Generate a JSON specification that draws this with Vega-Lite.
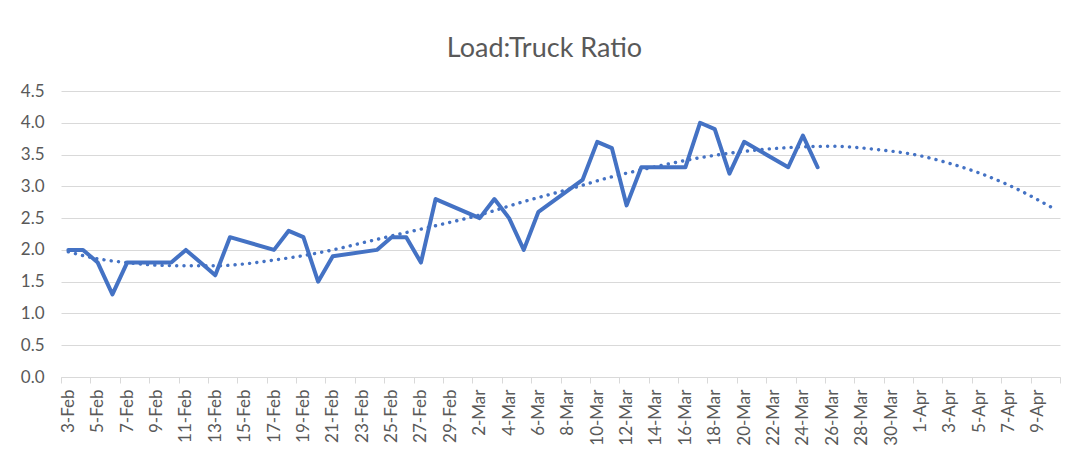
{
  "$schema": "https://vega.github.io/schema/vega-lite/v6.json",
  "autosize": "none",
  "width": 999,
  "height": 286,
  "padding": {"left": 61, "top": 91, "right": 9, "bottom": 79},
  "background": "white",
  "title": {
    "text": "Load:Truck Ratio",
    "font": "Lato",
    "fontSize": 27,
    "fontWeight": "normal",
    "color": "#595959",
    "anchor": "middle",
    "dx": -16,
    "dy": 35,
    "baseline": "alphabetic",
    "offset": 33
  },
  "config": {
    "view": {"stroke": null},
    "axis": {"labelFont": "Lato", "labelFontSize": 17, "labelColor": "#595959"}
  },
  "datasets": {
    "actual": [
      {"date": "2020-02-03T00:00:00", "ratio": 2.0},
      {"date": "2020-02-04T00:00:00", "ratio": 2.0},
      {"date": "2020-02-05T00:00:00", "ratio": 1.8},
      {"date": "2020-02-06T00:00:00", "ratio": 1.3},
      {"date": "2020-02-07T00:00:00", "ratio": 1.8},
      {"date": "2020-02-10T00:00:00", "ratio": 1.8},
      {"date": "2020-02-11T00:00:00", "ratio": 2.0},
      {"date": "2020-02-12T00:00:00", "ratio": 1.8},
      {"date": "2020-02-13T00:00:00", "ratio": 1.6},
      {"date": "2020-02-14T00:00:00", "ratio": 2.2},
      {"date": "2020-02-17T00:00:00", "ratio": 2.0},
      {"date": "2020-02-18T00:00:00", "ratio": 2.3},
      {"date": "2020-02-19T00:00:00", "ratio": 2.2},
      {"date": "2020-02-20T00:00:00", "ratio": 1.5},
      {"date": "2020-02-21T00:00:00", "ratio": 1.9},
      {"date": "2020-02-24T00:00:00", "ratio": 2.0},
      {"date": "2020-02-25T00:00:00", "ratio": 2.2},
      {"date": "2020-02-26T00:00:00", "ratio": 2.2},
      {"date": "2020-02-27T00:00:00", "ratio": 1.8},
      {"date": "2020-02-28T00:00:00", "ratio": 2.8},
      {"date": "2020-03-02T00:00:00", "ratio": 2.5},
      {"date": "2020-03-03T00:00:00", "ratio": 2.8},
      {"date": "2020-03-04T00:00:00", "ratio": 2.5},
      {"date": "2020-03-05T00:00:00", "ratio": 2.0},
      {"date": "2020-03-06T00:00:00", "ratio": 2.6},
      {"date": "2020-03-09T00:00:00", "ratio": 3.1},
      {"date": "2020-03-10T00:00:00", "ratio": 3.7},
      {"date": "2020-03-11T00:00:00", "ratio": 3.6},
      {"date": "2020-03-12T00:00:00", "ratio": 2.7},
      {"date": "2020-03-13T00:00:00", "ratio": 3.3},
      {"date": "2020-03-16T00:00:00", "ratio": 3.3},
      {"date": "2020-03-17T00:00:00", "ratio": 4.0},
      {"date": "2020-03-18T00:00:00", "ratio": 3.9},
      {"date": "2020-03-19T00:00:00", "ratio": 3.2},
      {"date": "2020-03-20T00:00:00", "ratio": 3.7},
      {"date": "2020-03-23T00:00:00", "ratio": 3.3},
      {"date": "2020-03-24T00:00:00", "ratio": 3.8},
      {"date": "2020-03-25T00:00:00", "ratio": 3.3}
    ],
    "trend": [
      {"date": "2020-02-03T00:00:00", "ratio": 1.97},
      {"date": "2020-02-05T00:00:00", "ratio": 1.86},
      {"date": "2020-02-07T00:00:00", "ratio": 1.80},
      {"date": "2020-02-09T00:00:00", "ratio": 1.76},
      {"date": "2020-02-11T00:00:00", "ratio": 1.75},
      {"date": "2020-02-13T00:00:00", "ratio": 1.75},
      {"date": "2020-02-15T00:00:00", "ratio": 1.78},
      {"date": "2020-02-17T00:00:00", "ratio": 1.84},
      {"date": "2020-02-19T00:00:00", "ratio": 1.91},
      {"date": "2020-02-21T00:00:00", "ratio": 2.00},
      {"date": "2020-02-23T00:00:00", "ratio": 2.11},
      {"date": "2020-02-25T00:00:00", "ratio": 2.22},
      {"date": "2020-02-28T00:00:00", "ratio": 2.38},
      {"date": "2020-03-02T00:00:00", "ratio": 2.55},
      {"date": "2020-03-05T00:00:00", "ratio": 2.76},
      {"date": "2020-03-08T00:00:00", "ratio": 2.95},
      {"date": "2020-03-11T00:00:00", "ratio": 3.15},
      {"date": "2020-03-14T00:00:00", "ratio": 3.31},
      {"date": "2020-03-17T00:00:00", "ratio": 3.45},
      {"date": "2020-03-20T00:00:00", "ratio": 3.55},
      {"date": "2020-03-23T00:00:00", "ratio": 3.61},
      {"date": "2020-03-26T00:00:00", "ratio": 3.63},
      {"date": "2020-03-29T00:00:00", "ratio": 3.58},
      {"date": "2020-04-01T00:00:00", "ratio": 3.48},
      {"date": "2020-04-03T00:00:00", "ratio": 3.36},
      {"date": "2020-04-05T00:00:00", "ratio": 3.21},
      {"date": "2020-04-07T00:00:00", "ratio": 3.02},
      {"date": "2020-04-10T00:00:00", "ratio": 2.66}
    ]
  },
  "encoding": {
    "y": {
      "field": "ratio",
      "type": "quantitative",
      "scale": {"domain": [0, 4.5], "nice": false, "zero": true},
      "axis": {
        "title": null,
        "values": [0, 0.5, 1, 1.5, 2, 2.5, 3, 3.5, 4, 4.5],
        "format": ".1f",
        "domain": false,
        "ticks": false,
        "grid": true,
        "gridColor": "#d9d9d9",
        "gridWidth": 1,
        "labelPadding": 17
      }
    }
  },
  "layer": [
    {
      "data": {"name": "trend"},
      "mark": {"type": "line", "color": "#4472C4", "strokeWidth": 3.4, "strokeCap": "round", "strokeDash": [0.1, 7.2], "interpolate": "monotone"},
      "encoding": {
        "x": {
          "field": "date",
          "type": "temporal",
          "scale": {"domain": ["2020-02-02T12:00:00", "2020-04-10T12:00:00"], "nice": false},
          "axis": {
            "orient": "bottom",
            "title": null,
            "labels": false,
            "grid": false,
            "domain": false,
            "ticks": true,
            "tickSize": 6,
            "tickColor": "#d9d9d9",
            "values": ["2020-02-02T12:00:00","2020-02-04T12:00:00","2020-02-06T12:00:00","2020-02-08T12:00:00","2020-02-10T12:00:00","2020-02-12T12:00:00","2020-02-14T12:00:00","2020-02-16T12:00:00","2020-02-18T12:00:00","2020-02-20T12:00:00","2020-02-22T12:00:00","2020-02-24T12:00:00","2020-02-26T12:00:00","2020-02-28T12:00:00","2020-03-01T12:00:00","2020-03-03T12:00:00","2020-03-05T12:00:00","2020-03-07T12:00:00","2020-03-09T12:00:00","2020-03-11T12:00:00","2020-03-13T12:00:00","2020-03-15T12:00:00","2020-03-17T12:00:00","2020-03-19T12:00:00","2020-03-21T12:00:00","2020-03-23T12:00:00","2020-03-25T12:00:00","2020-03-27T12:00:00","2020-03-29T12:00:00","2020-03-31T12:00:00","2020-04-02T12:00:00","2020-04-04T12:00:00","2020-04-06T12:00:00","2020-04-08T12:00:00","2020-04-10T12:00:00"]
          }
        }
      }
    },
    {
      "data": {"name": "actual"},
      "mark": {"type": "line", "color": "#4472C4", "strokeWidth": 4, "strokeJoin": "round", "strokeCap": "round"},
      "encoding": {
        "x": {
          "field": "date",
          "type": "temporal",
          "axis": {
            "orient": "bottom",
            "title": null,
            "grid": false,
            "domain": true,
            "domainColor": "#d9d9d9",
            "ticks": false,
            "labelAngle": 270,
            "labelAlign": "right",
            "labelBaseline": "middle",
            "labelPadding": 12,
            "format": "%-d-%b",
            "labelOverlap": false,
            "values": ["2020-02-03T00:00:00","2020-02-05T00:00:00","2020-02-07T00:00:00","2020-02-09T00:00:00","2020-02-11T00:00:00","2020-02-13T00:00:00","2020-02-15T00:00:00","2020-02-17T00:00:00","2020-02-19T00:00:00","2020-02-21T00:00:00","2020-02-23T00:00:00","2020-02-25T00:00:00","2020-02-27T00:00:00","2020-02-29T00:00:00","2020-03-02T00:00:00","2020-03-04T00:00:00","2020-03-06T00:00:00","2020-03-08T00:00:00","2020-03-10T00:00:00","2020-03-12T00:00:00","2020-03-14T00:00:00","2020-03-16T00:00:00","2020-03-18T00:00:00","2020-03-20T00:00:00","2020-03-22T00:00:00","2020-03-24T00:00:00","2020-03-26T00:00:00","2020-03-28T00:00:00","2020-03-30T00:00:00","2020-04-01T00:00:00","2020-04-03T00:00:00","2020-04-05T00:00:00","2020-04-07T00:00:00","2020-04-09T00:00:00"]
          }
        }
      }
    }
  ],
  "resolve": {"axis": {"x": "independent"}}
}
